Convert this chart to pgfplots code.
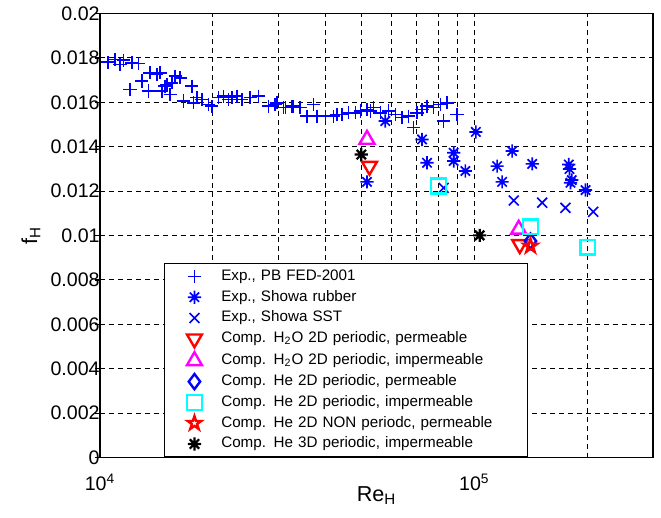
\documentclass[border=0pt]{standalone}
\usepackage{pgfplots}
\pgfplotsset{compat=1.18}
\usepackage{fontspec}
\setmainfont{Liberation Sans}

\definecolor{mblue}{rgb}{0,0,1}
\definecolor{mred}{rgb}{1,0,0}
\definecolor{mmagenta}{rgb}{1,0,1}
\definecolor{mcyan}{rgb}{0,1,1}

% MATLAB-style asterisk (+ and x together) and pentagram
\pgfdeclareplotmark{mast}{%
  \pgfpathmoveto{\pgfqpoint{-\pgfplotmarksize}{0pt}}\pgfpathlineto{\pgfqpoint{\pgfplotmarksize}{0pt}}%
  \pgfpathmoveto{\pgfqpoint{0pt}{-\pgfplotmarksize}}\pgfpathlineto{\pgfqpoint{0pt}{\pgfplotmarksize}}%
  \pgfpathmoveto{\pgfqpoint{-.7071\pgfplotmarksize}{-.7071\pgfplotmarksize}}\pgfpathlineto{\pgfqpoint{.7071\pgfplotmarksize}{.7071\pgfplotmarksize}}%
  \pgfpathmoveto{\pgfqpoint{-.7071\pgfplotmarksize}{.7071\pgfplotmarksize}}\pgfpathlineto{\pgfqpoint{.7071\pgfplotmarksize}{-.7071\pgfplotmarksize}}%
  \pgfusepathqstroke}
\pgfdeclareplotmark{pent}{%
  \pgfpathmoveto{\pgfpointpolar{90}{\pgfplotmarksize}}%
  \pgfpathlineto{\pgfpointpolar{126}{.382\pgfplotmarksize}}%
  \pgfpathlineto{\pgfpointpolar{162}{\pgfplotmarksize}}%
  \pgfpathlineto{\pgfpointpolar{198}{.382\pgfplotmarksize}}%
  \pgfpathlineto{\pgfpointpolar{234}{\pgfplotmarksize}}%
  \pgfpathlineto{\pgfpointpolar{270}{.382\pgfplotmarksize}}%
  \pgfpathlineto{\pgfpointpolar{306}{\pgfplotmarksize}}%
  \pgfpathlineto{\pgfpointpolar{342}{.382\pgfplotmarksize}}%
  \pgfpathlineto{\pgfpointpolar{18}{\pgfplotmarksize}}%
  \pgfpathlineto{\pgfpointpolar{54}{.382\pgfplotmarksize}}%
  \pgfpathclose\pgfusepathqstroke}

\begin{document}
\begin{tikzpicture}
\begin{axis}[
    scale only axis,
    width=276.5pt, height=222pt,
    xmode=log,
    xmin=1e4, xmax=3e5,
    ymin=0, ymax=0.02,
    xtick={1e4,1e5},
    xticklabels={10\textsuperscript{4},10\textsuperscript{5}},
    minor xtick={2e4,3e4,4e4,5e4,6e4,7e4,8e4,9e4,2e5,3e5},
    ytick={0,0.002,0.004,0.006,0.008,0.01,0.012,0.014,0.016,0.018,0.02},
    yticklabels={0,0.002,0.004,0.006,0.008,0.01,0.012,0.014,0.016,0.018,0.02},
    scaled y ticks=false,
    xmajorgrids, xminorgrids, ymajorgrids,
    major grid style={black, line width=0.5pt, dash pattern=on 2.5pt off 2pt},
    minor grid style={black, line width=0.5pt, dash pattern=on 2.5pt off 2pt},
    axis line style={line width=0.9pt},
    tick align=outside,
    xtick pos=bottom, ytick pos=left,
    x tick style={draw=none},
    y tick style={black, line width=0.6pt},
    major tick length=2.5pt,
    minor tick length=0pt,
    tick label style={font=\fontsize{9.8}{11}\selectfont},
    yticklabel style={inner xsep=0pt, xshift=2.5pt},
    xticklabel style={yshift=-2pt},
    xlabel={Re\textsubscript{H}},
    ylabel={f\textsubscript{H}},
    label style={font=\fontsize{10.8}{13}\selectfont},
    xlabel style={at={(axis description cs:0.5,-0.085)}, anchor=center},
    ylabel style={at={(axis description cs:-0.125,0.5)}, anchor=center},
    legend cell align=left,
    legend style={
        at={(0.1157,0)}, anchor=south west,
        draw=black, line width=0.6pt, fill=white,
        font=\fontsize{7.6}{9}\selectfont,
        inner xsep=11.2pt, inner ysep=2.5pt,
        row sep=2.4pt, column sep=9.7pt,
        nodes={inner xsep=0pt, inner ysep=0pt, text height=6pt, text depth=2pt, text width=142pt, align=left},
    },
]

% Exp., PB FED-2001
\addplot[only marks, mblue, mark=+, mark size=3.3pt, mark options={line width=0.75pt}] table {
x y
10500 0.01781
10970 0.01793
11310 0.01770
11540 0.01790
12160 0.01778
12660 0.01775
12030 0.01658
12930 0.01696
13600 0.01733
13460 0.01651
14180 0.01725
14470 0.01733
14620 0.01651
14920 0.01673
15390 0.01635
15080 0.01680
15870 0.01718
16370 0.01711
15550 0.01688
16700 0.01606
17590 0.01673
17760 0.01598
18140 0.01621
18710 0.01613
19480 0.01590
19900 0.01583
20720 0.01621
21370 0.01628
22030 0.01613
22500 0.01621
23200 0.01628
23920 0.01613
25180 0.01621
26500 0.01628
28180 0.01583
29690 0.01598
31250 0.01576
32560 0.01583
29380 0.01590
30920 0.01576
32880 0.01583
34260 0.01576
37190 0.01590
35700 0.01538
37970 0.01538
39970 0.01538
42060 0.01538
42950 0.01545
44300 0.01545
46130 0.01553
48070 0.01553
49570 0.01561
51660 0.01568
52720 0.01561
53810 0.01576
56080 0.01553
59010 0.01561
61500 0.01545
64090 0.01531
66750 0.01538
68840 0.01486
70300 0.01553
72490 0.01568
74740 0.01583
77860 0.01576
81100 0.01590
84530 0.01598
82780 0.01516
89900 0.01545
};
\addlegendentry{Exp., PB FED-2001}

% Exp., Showa rubber
\addplot[only marks, mblue, mark=mast, mark size=3.3pt, mark options={line width=0.85pt}] table {
x y
57810 0.01516
72490 0.01433
74740 0.01328
88030 0.01373
88030 0.01336
94600 0.01291
100900 0.01467
51660 0.01242
115000 0.01313
118600 0.01242
126100 0.01381
142700 0.01323
178700 0.01320
179500 0.01300
180600 0.01238
182000 0.01250
198100 0.01205
};
\addlegendentry{Exp., Showa rubber}

% Exp., Showa SST
\addplot[only marks, mblue, mark=x, mark size=3.5pt, mark options={line width=0.8pt}] table {
x y
82780 0.01215
127400 0.01158
151700 0.01148
175100 0.01125
207700 0.01107
};
\addlegendentry{Exp., Showa SST}

% Comp. H2O 2D periodic, permeable
\addplot[only marks, mred, mark=triangle, mark size=4.3pt, mark options={line width=1.2pt, rotate=180}] table {
x y
52460 0.01313
132200 0.00960
};
\addlegendentry{Comp. H\textsubscript{2}O 2D periodic, permeable}

% Comp. H2O 2D periodic, impermeable
\addplot[only marks, mmagenta, mark=triangle, mark size=4.3pt, mark options={line width=1.2pt}] table {
x y
51660 0.01433
131300 0.01028
};
\addlegendentry{Comp. H\textsubscript{2}O 2D periodic, impermeable}

% Comp. He 2D periodic, permeable
\addplot[only marks, mblue, mark=diamond, mark size=3.8pt, mark options={line width=1.2pt}] table {
x y
141200 0.00975
};
\addlegendentry{Comp. He 2D periodic, permeable}

% Comp. He 2D periodic, impermeable
\addplot[only marks, mcyan, mark=square, mark size=3.7pt, mark options={line width=1.2pt}] table {
x y
80250 0.01223
141200 0.01040
200900 0.00948
};
\addlegendentry{Comp. He 2D periodic, impermeable}

% Comp. He 2D NON periodc, permeable
\addplot[only marks, mred, mark=pent, mark size=3.6pt, mark options={line width=1.2pt}] table {
x y
141200 0.00953
};
\addlegendentry{Comp. He 2D NON periodc, permeable}

% Comp. He 3D periodic, impermeable
\addplot[only marks, black, mark=mast, mark size=3.3pt, mark options={line width=1.1pt}] table {
x y
49880 0.01365
103300 0.01001
};
\addlegendentry{Comp. He 3D periodic, impermeable}

\end{axis}
% page size as in the reference
\path ([xshift=-50pt,yshift=-30pt]current axis.south west) rectangle ([xshift=4pt,yshift=5.35pt]current axis.north east);
\end{tikzpicture}
\end{document}
